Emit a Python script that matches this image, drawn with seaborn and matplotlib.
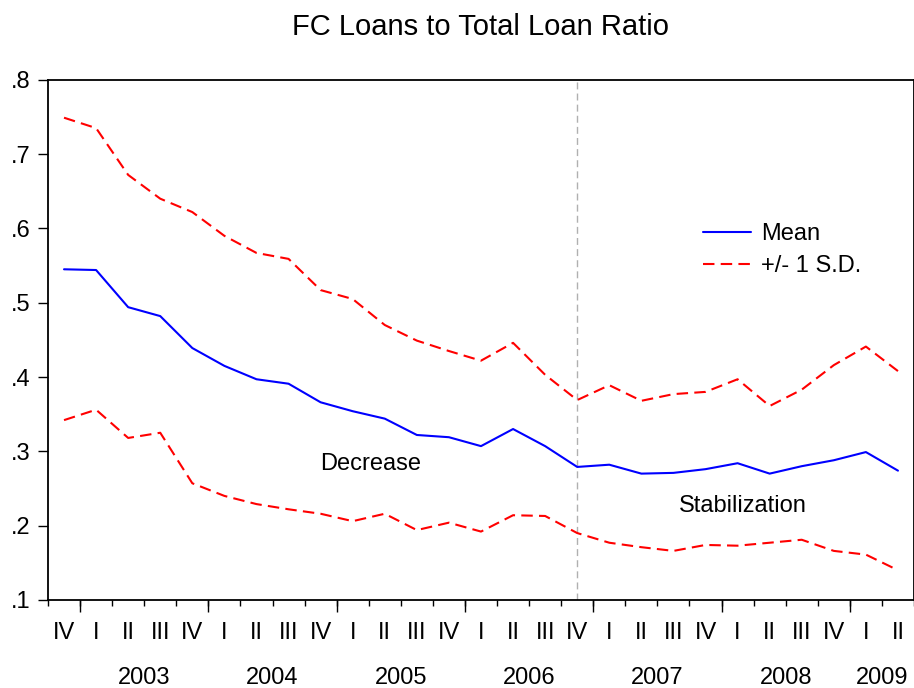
import numpy as np
import pandas as pd
import seaborn as sns
import matplotlib.pyplot as plt

# quarterly series, 2002Q4 .. 2009Q2
quarters = ["IV", "I", "II", "III", "IV", "I", "II", "III", "IV", "I", "II", "III", "IV",
            "I", "II", "III", "IV", "I", "II", "III", "IV", "I", "II", "III", "IV", "I", "II"]
years = ["2003", "2004", "2005", "2006", "2007", "2008", "2009"]
year_centers = [2.5, 6.5, 10.5, 14.5, 18.5, 22.5, 25.5]
year_bounds = [0.5, 4.5, 8.5, 12.5, 16.5, 20.5, 24.5]

mean = [0.545, 0.544, 0.494, 0.482, 0.439, 0.415, 0.397, 0.391, 0.366, 0.354, 0.344,
        0.322, 0.319, 0.307, 0.330, 0.307, 0.279, 0.282, 0.270, 0.271, 0.276, 0.284,
        0.270, 0.280, 0.288, 0.299, 0.274]
upper = [0.749, 0.735, 0.672, 0.640, 0.622, 0.590, 0.567, 0.559, 0.517, 0.505, 0.470,
         0.449, 0.435, 0.422, 0.446, 0.403, 0.369, 0.389, 0.368, 0.377, 0.380, 0.397,
         0.361, 0.383, 0.416, 0.441, 0.408]
lower = [0.342, 0.356, 0.318, 0.325, 0.257, 0.240, 0.229, 0.222, 0.216, 0.206, 0.216,
         0.194, 0.204, 0.192, 0.214, 0.213, 0.190, 0.177, 0.171, 0.166, 0.174, 0.173,
         0.177, 0.181, 0.166, 0.161, 0.140]

y_ticks = [0.1, 0.2, 0.3, 0.4, 0.5, 0.6, 0.7, 0.8]
y_labels = [".1", ".2", ".3", ".4", ".5", ".6", ".7", ".8"]
break_idx = 16  # 2006Q4

df = pd.DataFrame({"t": np.arange(len(mean)), "mean": mean, "upper": upper, "lower": lower})

sns.set_style("ticks")
plt.rcParams["font.family"] = ["Liberation Sans", "DejaVu Sans"]
plt.rcParams["font.size"] = 17
plt.rcParams.update({"text.color": "black", "axes.edgecolor": "black",
                     "xtick.color": "black", "ytick.color": "black",
                     "axes.labelcolor": "black"})

fig = plt.figure(figsize=(9.14, 6.88), dpi=100)
ax = fig.add_axes([0.0525, 0.128, 0.9475, 0.756])

dash = (0, (5.5, 3))
sns.lineplot(data=df, x="t", y="mean", color="blue", lw=1.5, ax=ax, label="Mean")
sns.lineplot(data=df, x="t", y="upper", color="red", lw=1.5, ax=ax, label="+/- 1 S.D.",
             linestyle=dash)
sns.lineplot(data=df, x="t", y="lower", color="red", lw=1.5, ax=ax, linestyle=dash)

ax.axvline(break_idx, color="#b0b0b0", lw=1.0, linestyle=(0, (5, 3)), zorder=0)

ax.set_xlim(-0.5, len(mean) - 0.5)
ax.set_ylim(0.1, 0.8)
ax.set_yticks(y_ticks, y_labels)
ax.tick_params(axis="y", length=7.5, width=1, pad=5, labelsize=17)

ax.set_xticks(np.arange(len(quarters)), quarters)
ax.set_xticks(np.arange(-0.5, len(quarters)), minor=True)
ax.tick_params(axis="x", which="major", length=0, pad=16, labelsize=17)
ax.tick_params(axis="x", which="minor", length=4, width=1)

sec = ax.secondary_xaxis("bottom")
sec.set_xticks(year_bounds, [""] * len(year_bounds))
sec.tick_params(length=8.5, width=1)
sec.spines["bottom"].set_visible(False)

sec2 = ax.secondary_xaxis("bottom")
sec2.set_xticks(year_centers, years)
sec2.tick_params(length=0, pad=48, labelsize=17)
sec2.spines["bottom"].set_visible(False)

for s in ax.spines.values():
    s.set_linewidth(1.3)

ax.set_xlabel("")
ax.set_ylabel("")
ax.set_title("FC Loans to Total Loan Ratio", fontsize=21, pad=32)

ax.text(9.55, 0.283, "Decrease", fontsize=17, ha="center", va="center")
ax.text(21.15, 0.226, "Stabilization", fontsize=17, ha="center", va="center")

ax.legend(loc="upper left", bbox_to_anchor=(0.7460, 0.743), frameon=False, fontsize=17,
          handlelength=2.0, handletextpad=0.45, labelspacing=0.42, borderaxespad=0)

fig.savefig("out.png", dpi=100)
